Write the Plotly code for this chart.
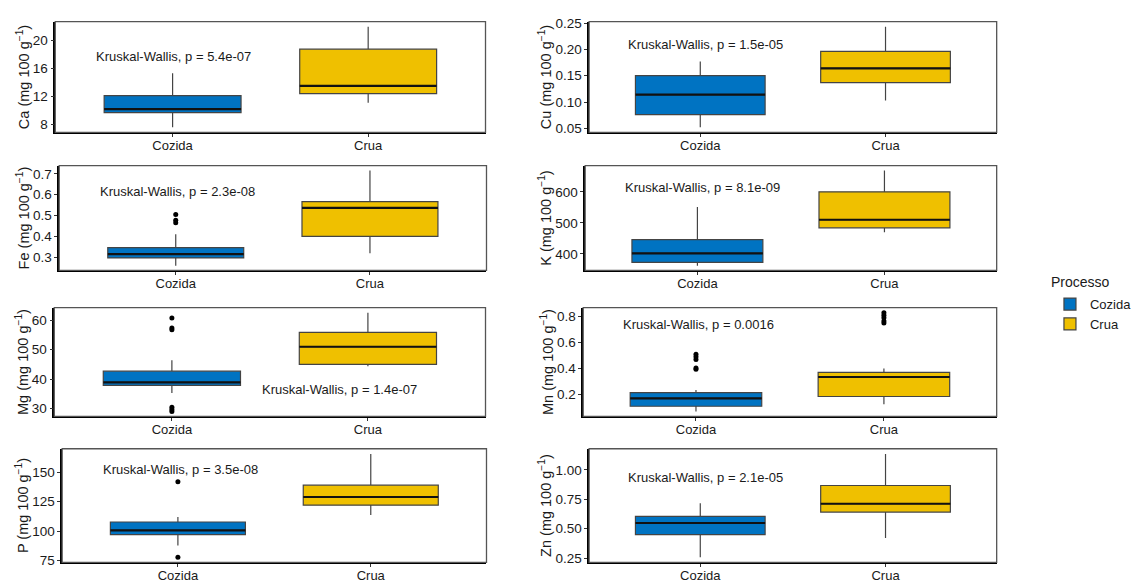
import plotly.graph_objects as go

# ---------------- data ----------------
elements = ["Ca", "Cu", "Fe", "K", "Mg", "Mn", "P", "Zn"]
groups = ["Cozida", "Crua"]

# box statistics per element: [lower whisker, q1, median, q3, upper whisker]
ca_cozida = [7.6, 9.7, 10.2, 12.1, 15.3]
ca_crua = [11.1, 12.4, 13.5, 18.7, 21.9]
cu_cozida = [0.052, 0.076, 0.114, 0.150, 0.177]
cu_crua = [0.103, 0.137, 0.164, 0.196, 0.243]
fe_cozida = [0.26, 0.297, 0.315, 0.347, 0.41]
fe_crua = [0.32, 0.40, 0.537, 0.567, 0.716]
k_cozida = [362, 373, 402, 446, 551]
k_crua = [470, 484, 510, 600, 669]
mg_cozida = [35.3, 37.9, 38.9, 42.7, 46.4]
mg_crua = [44.4, 45.0, 51.0, 55.9, 62.6]
mn_cozida = [0.07, 0.11, 0.17, 0.215, 0.235]
mn_crua = [0.125, 0.185, 0.335, 0.37, 0.40]
p_cozida = [87.7, 96.9, 100.6, 107.7, 112.0]
p_crua = [113.6, 122.0, 129.0, 139.1, 165.7]
zn_cozida = [0.257, 0.449, 0.548, 0.605, 0.716]
zn_crua = [0.42, 0.641, 0.712, 0.867, 1.136]

# outliers
fe_cozida_out = [0.505, 0.478, 0.466]
mg_cozida_out = [60.8, 57.4, 56.8, 30.4, 29.7, 29.0]
mn_cozida_out = [0.51, 0.49, 0.47, 0.405, 0.395]
mn_crua_out = [0.83, 0.81, 0.79, 0.765, 0.75]
p_cozida_out = [142.0, 77.7]

kw_labels = ["Kruskal-Wallis, p = 5.4e-07", "Kruskal-Wallis, p = 1.5e-05",
             "Kruskal-Wallis, p = 2.3e-08", "Kruskal-Wallis, p = 8.1e-09",
             "Kruskal-Wallis, p = 1.4e-07", "Kruskal-Wallis, p = 0.0016",
             "Kruskal-Wallis, p = 3.5e-08", "Kruskal-Wallis, p = 2.1e-05"]
kw_label_x = [0.6, 0.6, 0.6, 0.6, 1.45, 0.6, 0.6, 0.6]
kw_label_y = [17.6, 0.209, 0.615, 614, 36.6, 0.74, 152, 0.935]

ytick_vals = [[8, 12, 16, 20], [0.05, 0.10, 0.15, 0.20, 0.25], [0.3, 0.4, 0.5, 0.6, 0.7],
              [400, 500, 600], [30, 40, 50, 60], [0.2, 0.4, 0.6, 0.8],
              [75, 100, 125, 150], [0.25, 0.50, 0.75, 1.00]]
ytick_fmt = ["d", ".2f", ".1f", "d", "d", ".1f", "d", ".2f"]

legend_title = "Processo"

stats = {
    "Ca": (ca_cozida, ca_crua), "Cu": (cu_cozida, cu_crua), "Fe": (fe_cozida, fe_crua),
    "K": (k_cozida, k_crua), "Mg": (mg_cozida, mg_crua), "Mn": (mn_cozida, mn_crua),
    "P": (p_cozida, p_crua), "Zn": (zn_cozida, zn_crua),
}
outliers = {
    "Fe": (fe_cozida_out, []), "Mg": (mg_cozida_out, []),
    "Mn": (mn_cozida_out, mn_crua_out), "P": (p_cozida_out, []),
}

# ---------------- style / layout ----------------
W, H = 1137, 586
colors = ["#0073C2", "#EFC000"]
FONT = "Liberation Sans, Arial, sans-serif"
BOX_W = 0.7

# panel pixel extents (left, right) and rows (top, bottom)
col_px = [(56, 492), (597, 1010), (60, 493), (593, 1010),
          (55, 492), (591, 1010), (63, 493), (597, 1010)]
row_px = [(16, 129), (163, 270), (308, 419), (452, 568)]

fig = go.Figure()
layout = dict(
    width=W, height=H, margin=dict(l=0, r=0, t=0, b=0),
    paper_bgcolor="white", plot_bgcolor="white",
    font=dict(family=FONT, size=13, color="#1a1a1a"),
    showlegend=True,
    legend=dict(x=1064 / W, y=1 - 289 / H, xanchor="left", yanchor="top",
                font=dict(size=13), tracegroupgap=0, itemwidth=30,
                bgcolor="rgba(0,0,0,0)"),
    annotations=[dict(text=legend_title, x=1063 / W, y=1 - 282 / H, xref="paper", yref="paper",
                      xanchor="left", yanchor="middle", showarrow=False,
                      font=dict(size=14, color="#1a1a1a"))],
    shapes=[],
)

for i, el in enumerate(elements):
    n = i + 1
    xa = "x" if n == 1 else f"x{n}"
    ya = "y" if n == 1 else f"y{n}"
    xkey = "xaxis" if n == 1 else f"xaxis{n}"
    ykey = "yaxis" if n == 1 else f"yaxis{n}"
    row = i // 2
    l, r = col_px[i]
    t, b = row_px[row]

    allvals = []
    for g, (st, c) in enumerate(zip(stats[el], colors)):
        lo, q1, med, q3, hi = st
        allvals += [lo, hi]
        fig.add_trace(go.Box(
            x=[g + 1], lowerfence=[lo], q1=[q1], median=[med], q3=[q3], upperfence=[hi],
            name=groups[g], legendgroup=groups[g], showlegend=(i == 0),
            fillcolor=c, line=dict(color="#444444", width=1.2),
            whiskerwidth=0, width=BOX_W, boxpoints=False,
            xaxis=xa, yaxis=ya, hoverinfo="skip",
        ))
        # thicker median line (as in ggplot)
        fig.add_trace(go.Scatter(
            x=[g + 1 - BOX_W / 2, g + 1 + BOX_W / 2], y=[med, med], mode="lines",
            line=dict(color="#111111", width=2.2), showlegend=False,
            xaxis=xa, yaxis=ya, hoverinfo="skip",
        ))
    if el in outliers:
        for g, outs in enumerate(outliers[el]):
            if outs:
                allvals += outs
                fig.add_trace(go.Scatter(
                    x=[g + 1] * len(outs), y=outs, mode="markers",
                    marker=dict(color="black", size=5), showlegend=False,
                    xaxis=xa, yaxis=ya, hoverinfo="skip",
                ))
    ymin, ymax = min(allvals), max(allvals)
    pad = 0.05 * (ymax - ymin)

    layout[xkey] = dict(
        domain=[l / W, r / W], anchor=ya, range=[0.4, 2.6],
        tickvals=[1, 2], ticktext=groups, ticks="outside", ticklen=3,
        tickcolor="#333333", showline=True, linecolor="black", linewidth=1.5,
        showgrid=False, zeroline=False, tickfont=dict(size=13, color="#1a1a1a"),
        ticklabelstandoff=-3, fixedrange=True,
    )
    layout[ykey] = dict(
        domain=[1 - b / H, 1 - t / H], anchor=xa, range=[ymin - pad, ymax + pad],
        tickvals=ytick_vals[i], tickformat=ytick_fmt[i], ticks="outside", ticklen=3,
        tickcolor="#333333", showline=True, linecolor="black", linewidth=1.5,
        showgrid=False, zeroline=False, tickfont=dict(size=13.5, color="#1a1a1a"),
        title=dict(text=f"{el} (mg 100 g<sup>−1</sup>)", font=dict(size=14.5, color="#1a1a1a"),
                   standoff=0),
        fixedrange=True,
    )
    # panel border
    layout["shapes"].append(dict(
        type="rect", xref=f"{xa} domain", yref=f"{ya} domain",
        x0=0, x1=1, y0=0, y1=1, line=dict(color="#555555", width=1.3),
        fillcolor="rgba(0,0,0,0)", layer="above",
    ))
    layout["annotations"].append(dict(
        text=kw_labels[i], x=kw_label_x[i], y=kw_label_y[i], xref=xa, yref=ya,
        xanchor="left", yanchor="middle", showarrow=False,
        font=dict(size=13, color="#1a1a1a"),
    ))

fig.update_layout(**layout)
fig.write_html("out.html")
